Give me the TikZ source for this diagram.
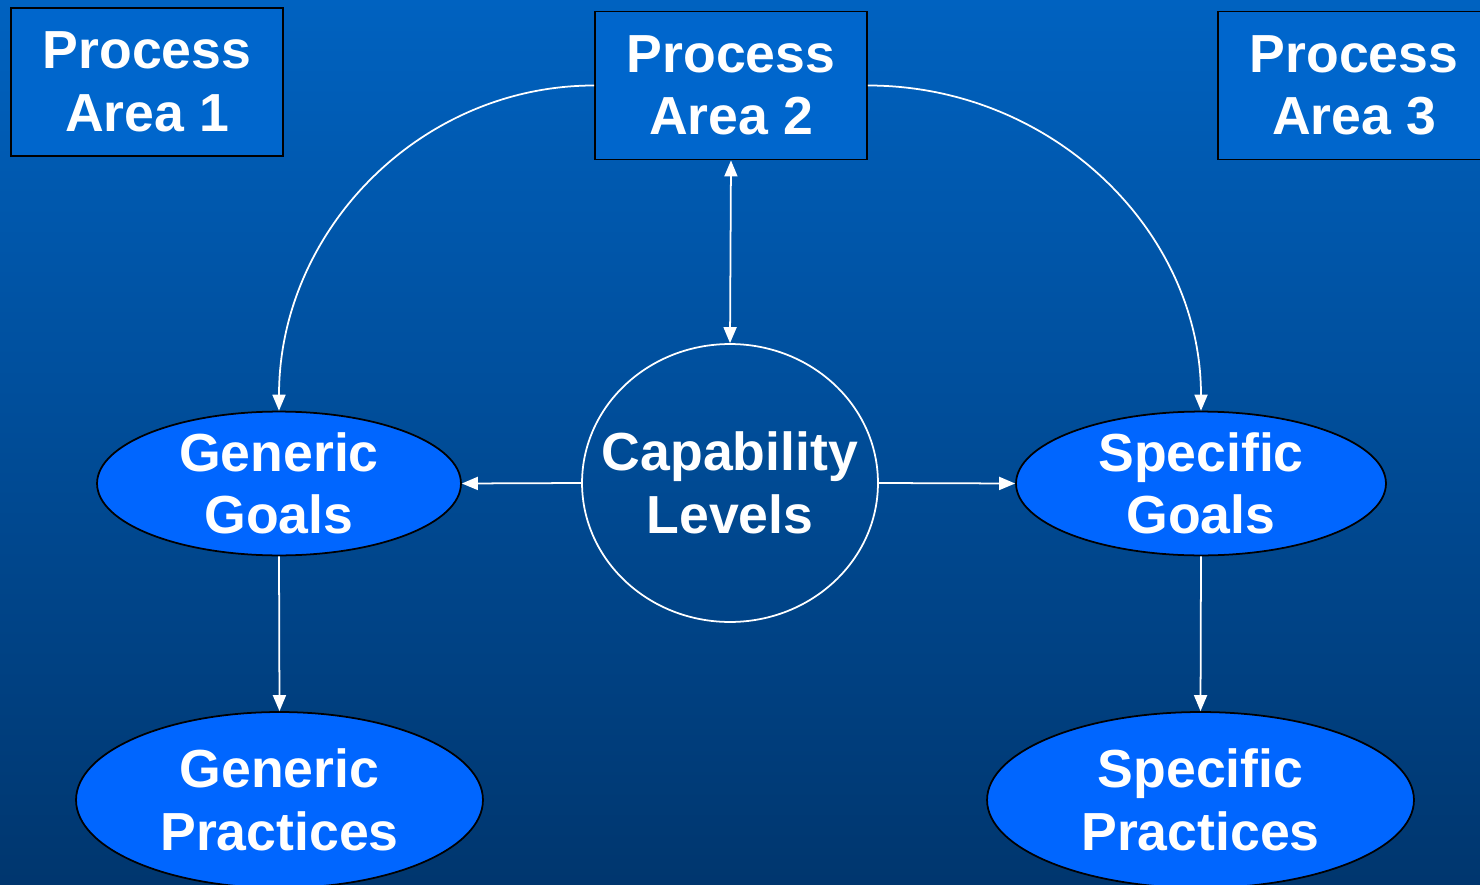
\documentclass[tikz,border=0pt]{standalone}
\usepackage{fontspec}
\setmainfont{Liberation Sans}
\usetikzlibrary{shapes.geometric,arrows.meta}
\definecolor{bgtop}{RGB}{0,98,192}
\definecolor{bgbot}{RGB}{0,54,110}
\definecolor{boxfill}{RGB}{0,102,204}
\definecolor{ellfill}{RGB}{0,102,255}
\tikzset{
  lbl/.style={text=white,font=\fontsize{30.5}{35.5}\selectfont\bfseries,align=center,inner sep=0pt},
  pabox/.style={lbl,draw=black,line width=1.1pt,fill=boxfill,rectangle,minimum width=5.44cm,minimum height=2.96cm},
  goal/.style={lbl,ellipse,draw=black,line width=1pt,fill=ellfill},
  capnode/.style={ellipse,draw=white,line width=1pt,inner sep=0pt,minimum width=5.92cm,minimum height=5.56cm},
  conn/.style={draw=white,line width=1pt,-{Triangle[length=0.32cm,width=0.26cm]}},
  dconn/.style={draw=white,line width=1pt,{Triangle[length=0.32cm,width=0.26cm]}-{Triangle[length=0.32cm,width=0.26cm]}}
}
\begin{document}
\begin{tikzpicture}[x=0.02cm,y=-0.02cm]
\useasboundingbox (0,0) rectangle (1480,885);
\shade[top color=bgtop,bottom color=bgbot] (0,0) rectangle (1480,885);
\begin{scope}
\clip (0,0) rectangle (1480,885);
\node[pabox] (pa1) at (147,82) {Process\\Area 1};
\node[pabox] (pa2) at (731,85.5) {Process\\Area 2};
\node[pabox] (pa3) at (1354,85.5) {Process\\Area 3};
\node[capnode] (cap) at (730,483) {};
\node[lbl] (captext) at (cap.center) {Capability\\Levels};
\node[goal,minimum width=7.28cm,minimum height=2.82cm] (gg) at (279,483.5) {Generic\\Goals};
\node[goal,minimum width=7.4cm,minimum height=2.82cm] (sg) at (1201,483.5) {Specific\\Goals};
\node[goal,minimum width=8.14cm,minimum height=3.52cm] (gp) at (279.5,800) {Generic\\Practices};
\node[goal,minimum width=8.54cm,minimum height=3.52cm] (sp) at (1200.5,800) {Specific\\Practices};
\draw[dconn] (pa2.south) -- (cap.north);
\draw[conn] (cap.west) -- (gg.east);
\draw[conn] (cap.east) -- (sg.west);
\draw[conn] (gg.south) -- (gp.north);
\draw[conn] (sg.south) -- (sp.north);
\draw[conn] (pa2.west) .. controls +(-174,0) and +(0,-180) .. (gg.north);
\draw[conn] (pa2.east) .. controls +(184,0) and +(0,-180) .. (sg.north);
\end{scope}
\end{tikzpicture}
\end{document}
